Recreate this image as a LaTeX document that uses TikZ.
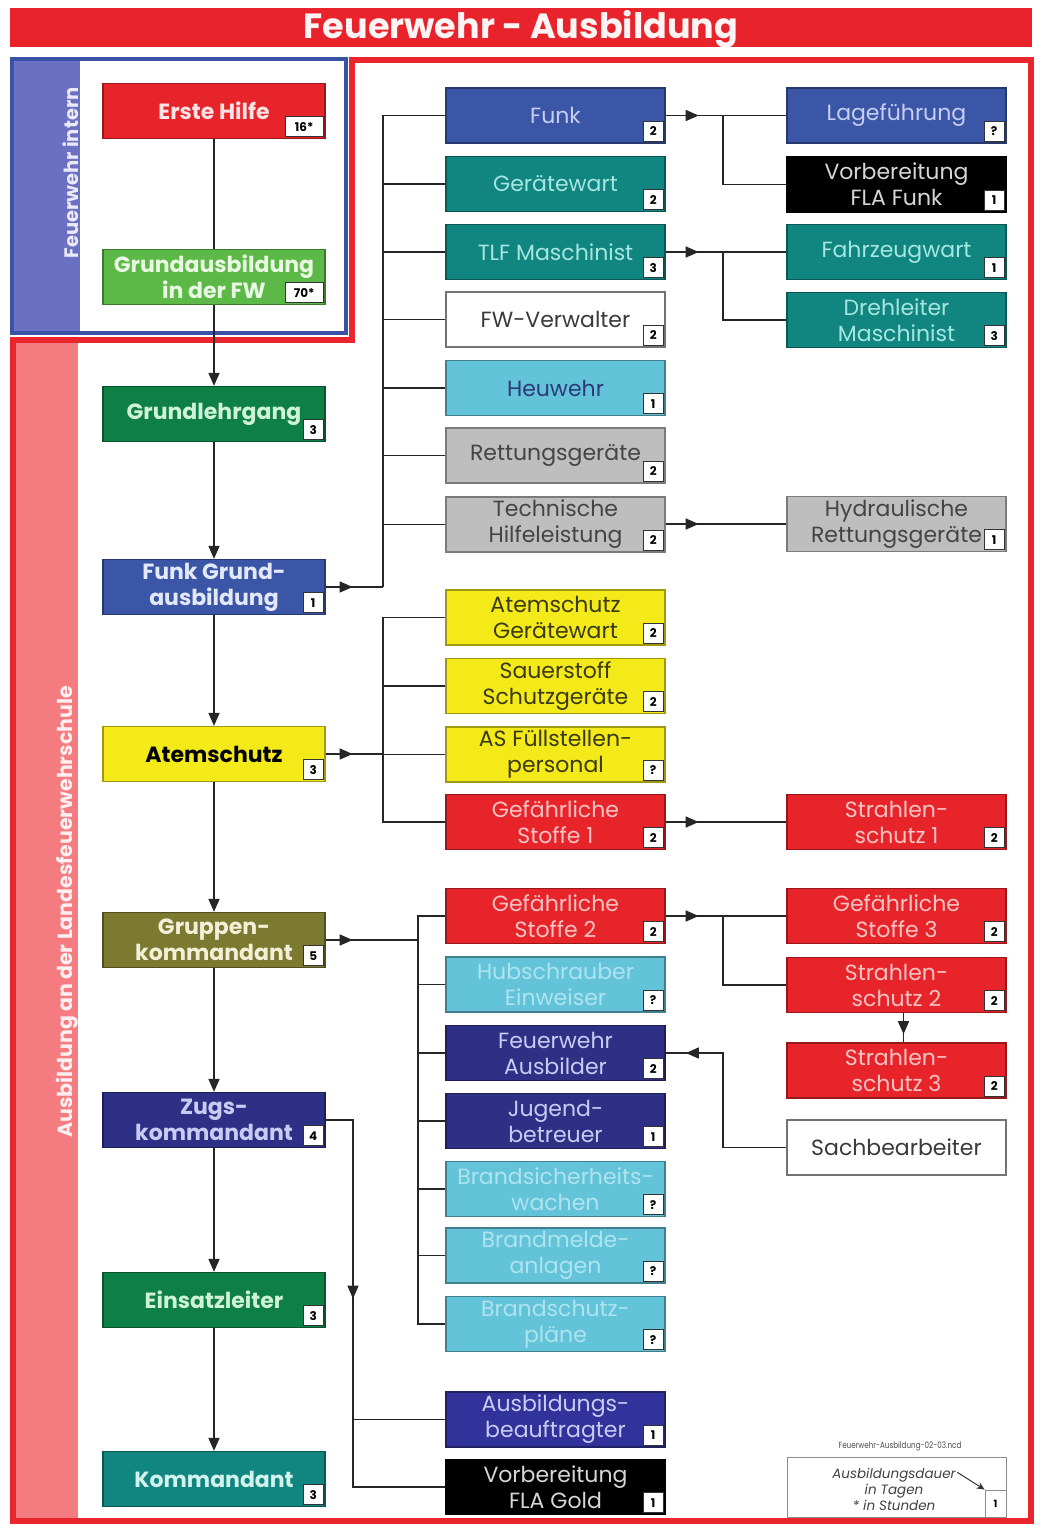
\documentclass[tikz,border=0pt]{standalone}
\usepackage{fontspec}
\setmainfont{Poppins}
\usetikzlibrary{arrows.meta,decorations.markings}

\definecolor{fwTitle}{HTML}{E9232B}
\definecolor{fwFrame}{HTML}{E8262C}
\definecolor{fwPink}{HTML}{F47C80}
\definecolor{fwFrameBlue}{HTML}{3A52A6}
\definecolor{fwStripBlue}{HTML}{6B70C2}
\definecolor{fwRed}{HTML}{E8242B}
\definecolor{fwBlue}{HTML}{3B56A6}
\definecolor{fwNavy}{HTML}{2E3086}
\definecolor{fwNavyB}{HTML}{31329A}
\definecolor{fwTeal}{HTML}{11857F}
\definecolor{fwGreenD}{HTML}{0E7F45}
\definecolor{fwGreenL}{HTML}{5CB847}
\definecolor{fwYellow}{HTML}{F4EA1A}
\definecolor{fwOlive}{HTML}{7C7A30}
\definecolor{fwCyan}{HTML}{63C4D9}
\definecolor{fwGray}{HTML}{BEBEBE}
\definecolor{tPink}{HTML}{FCE2E2}
\definecolor{tRed}{HTML}{F9C4C4}
\definecolor{tBlue}{HTML}{C6CEF2}
\definecolor{tBlueL}{HTML}{E4E9FA}
\definecolor{tNavy}{HTML}{C9CCF2}
\definecolor{tTeal}{HTML}{A6E6E1}
\definecolor{tTealL}{HTML}{D2F2EE}
\definecolor{tGreenD}{HTML}{CFF3D6}
\definecolor{tGreenL}{HTML}{E9F8E2}
\definecolor{tYellow}{HTML}{3A3A12}
\definecolor{tOlive}{HTML}{F2F0D8}
\definecolor{tCyan}{HTML}{AEE3EF}
\definecolor{tCyanD}{HTML}{2D3A7A}
\definecolor{tGray}{HTML}{444444}
\definecolor{tBlack}{HTML}{D6D6D6}
\definecolor{tWhite}{HTML}{3A3A3A}

\newcommand\crs[5]{%
  \node[#1] (#2) at (#3) {#4};
  \node[badge] (#2b) at ([xshift=-2pt,yshift=2pt]#2.south east) {#5};}

\begin{document}
\begin{tikzpicture}[x=1pt,y=-1pt,
  cbase/.style={line width=1.3pt, minimum height=55pt, inner sep=0pt, align=center},
  lc/.style 2 args={cbase, fill=#1, draw=#1!65!black, text=#2, minimum width=222pt,
     font=\bfseries\fontsize{22}{26}\selectfont},
  mc/.style 2 args={cbase, fill=#1, draw=#1!65!black, text=#2, minimum width=219pt,
     font=\fontsize{22}{26}\selectfont},
  badge/.style={draw=black!80, fill=white, line width=0.9pt, minimum width=20pt,
     minimum height=20pt, inner sep=2pt, anchor=south east, text=black,
     font=\bfseries\fontsize{12}{12}\selectfont},
  conn/.style={draw=black!85, line width=1.6pt},
  arr/.style={-{Triangle[length=13pt,width=11pt]}},
  midarr/.style={postaction={decorate}, decoration={markings,
     mark=at position #1 with {\arrow{Triangle[length=13pt,width=11pt]}}}}
]
\useasboundingbox (0,0) rectangle (1039,1526);

% title
\fill[fwTitle] (10,8) rectangle (1032,47);
\node[text=white!95!fwTitle, font=\bfseries\fontsize{35}{35}\selectfont] (title) at (521,29)
  {Feuerwehr - Ausbildung};

% Feuerwehr intern box
\fill[fwStripBlue] (12,59) rectangle (80,333);
\draw[fwFrameBlue, line width=4pt] (12,59) rectangle (346,333);
\node[rotate=90, text=white!85!fwStripBlue, font=\bfseries\fontsize{19.5}{19.5}\selectfont]
  (intern) at (71,173) {Feuerwehr intern};

% red frame + pink strip
\fill[fwPink] (14,342) rectangle (78,1519);
\draw[fwFrame, line width=6pt] (352,60) -- (1031,60) -- (1031,1521) -- (13,1521)
  -- (13,340) -- (352,340) -- cycle;
\node[rotate=90, text=white!88!fwPink, font=\bfseries\fontsize{20.5}{20.5}\selectfont]
  (lfs) at (67,912) {Ausbildung an der Landesfeuerwehrschule};

% left column
\crs{lc={fwRed}{tPink}}{eh}{214,111}{Erste Hilfe}{\makebox[34pt]{16*}}
\crs{lc={fwGreenL}{tGreenL}}{ga}{214,277}{Grundausbildung\\in der FW}{\makebox[34pt]{70*}}
\crs{lc={fwGreenD}{tGreenD}}{gl}{214,414}{Grundlehrgang}{3}
\crs{lc={fwBlue}{tBlueL}}{fg}{214,587}{Funk Grund-\\ausbildung}{1}
\crs{lc={fwYellow}{black}}{ats}{214,754}{Atemschutz}{3}
\crs{lc={fwOlive}{tOlive}}{gk}{214,940}{Gruppen-\\kommandant}{5}
\crs{lc={fwNavy}{tNavy}}{zk}{214,1120}{Zugs-\\kommandant}{4}
\crs{lc={fwGreenD}{tGreenD}}{el}{214,1300}{Einsatzleiter}{3}
\crs{lc={fwTeal}{tTealL}}{ko}{214,1479}{Kommandant}{3}

% middle column
\crs{mc={fwBlue}{tBlue}}{funk}{555.5,115.5}{Funk}{2}
\crs{mc={fwTeal}{tTeal}}{gw}{555.5,184}{Gerätewart}{2}
\crs{mc={fwTeal}{tTeal}}{tlf}{555.5,252}{TLF Maschinist}{3}
\crs{mc={white}{tWhite}, draw=black!55}{fwv}{555.5,319.5}{FW-Verwalter}{2}
\crs{mc={fwCyan}{tCyanD}}{heu}{555.5,388}{Heuwehr}{1}
\crs{mc={fwGray}{tGray}}{rg}{555.5,455.5}{Rettungsgeräte}{2}
\crs{mc={fwGray}{tGray}}{thl}{555.5,524.5}{Technische\\Hilfeleistung}{2}
\crs{mc={fwYellow}{tYellow}}{asg}{555.5,617.5}{Atemschutz\\Gerätewart}{2}
\crs{mc={fwYellow}{tYellow}}{ssg}{555.5,686}{Sauerstoff\\Schutzgeräte}{2}
\crs{mc={fwYellow}{tYellow}}{asf}{555.5,754.5}{AS Füllstellen-\\personal}{?}
\crs{mc={fwRed}{tRed}}{gs1}{555.5,822}{Gefährliche\\Stoffe 1}{2}
\crs{mc={fwRed}{tRed}}{gs2}{555.5,916}{Gefährliche\\Stoffe 2}{2}
\crs{mc={fwCyan}{tCyan}}{hub}{555.5,984.5}{Hubschrauber\\Einweiser}{?}
\crs{mc={fwNavy}{tNavy}}{fwa}{555.5,1053}{Feuerwehr\\Ausbilder}{2}
\crs{mc={fwNavy}{tNavy}}{jb}{555.5,1121}{Jugend-\\betreuer}{1}
\crs{mc={fwCyan}{tCyan}}{bsw}{555.5,1189}{Brandsicherheits-\\wachen}{?}
\crs{mc={fwCyan}{tCyan}}{bma}{555.5,1255.5}{Brandmelde-\\anlagen}{?}
\crs{mc={fwCyan}{tCyan}}{bsp}{555.5,1324}{Brandschutz-\\pläne}{?}
\crs{mc={fwNavyB}{tNavy}}{ab}{555.5,1419.5}{Ausbildungs-\\beauftragter}{1}
\crs{mc={black}{tBlack}}{vfg}{555.5,1487}{Vorbereitung\\FLA Gold}{1}

% right column
\crs{mc={fwBlue}{tBlue}}{lage}{896.5,115.5}{Lageführung}{?}
\crs{mc={black}{tBlack}}{vff}{896.5,184.5}{Vorbereitung\\FLA Funk}{1}
\crs{mc={fwTeal}{tTeal}}{fzw}{896.5,252}{Fahrzeugwart}{1}
\crs{mc={fwTeal}{tTeal}}{dlm}{896.5,320}{Drehleiter\\Maschinist}{3}
\crs{mc={fwGray}{tGray}}{hrg}{896.5,524}{Hydraulische\\Rettungsgeräte}{1}
\crs{mc={fwRed}{tRed}}{ss1}{896.5,822}{Strahlen-\\schutz 1}{2}
\crs{mc={fwRed}{tRed}}{gs3}{896.5,916}{Gefährliche\\Stoffe 3}{2}
\crs{mc={fwRed}{tRed}}{ss2}{896.5,985}{Strahlen-\\schutz 2}{2}
\crs{mc={fwRed}{tRed}}{ss3}{896.5,1070.5}{Strahlen-\\schutz 3}{2}
\node[mc={white}{tWhite}, draw=black!55] (sb) at (896.5,1147.5) {Sachbearbeiter};

% main vertical chain
\draw[conn] (eh) -- (ga);
\draw[conn,arr] (ga) -- (gl);
\draw[conn,arr] (gl) -- (fg);
\draw[conn,arr] (fg) -- (ats);
\draw[conn,arr] (ats) -- (gk);
\draw[conn,arr] (gk) -- (zk);
\draw[conn,arr] (zk) -- (el);
\draw[conn,arr] (el) -- (ko);

% bus 1: Funk Grundausbildung
\coordinate (bus1) at (383,587);
\draw[conn, midarr=27pt] (fg.east) -- (bus1);
\foreach \n in {funk,gw,tlf,fwv,heu,rg,thl} \draw[conn] (bus1) |- (\n.west);

% bus 2: Atemschutz
\coordinate (bus2) at (383,754);
\draw[conn, midarr=27pt] (ats.east) -- (bus2);
\foreach \n in {asg,ssg,asf,gs1} \draw[conn] (bus2) |- (\n.west);

% bus 3: Gruppenkommandant
\coordinate (bus3) at (418,940);
\draw[conn, midarr=27pt] (gk.east) -- (bus3);
\foreach \n in {gs2,hub,fwa,jb,bsw,bma,bsp} \draw[conn] (bus3) |- (\n.west);

% Zugskommandant branch
\coordinate (zk1) at (353,1120);
\coordinate (zk2) at (353,1487);
\draw[conn, midarr=206pt] (zk.east) -- (zk1) -- (zk2) -- (vfg.west);
\draw[conn] (zk1) |- (ab.west);

% middle -> right
\draw[conn, midarr=33pt] (funk.east) -- (lage.west);
\coordinate (fb) at (723,115.5);
\draw[conn] (fb) |- (vff.west);
\draw[conn, midarr=33pt] (tlf.east) -- (fzw.west);
\coordinate (tb) at (723,252);
\draw[conn] (tb) |- (dlm.west);
\draw[conn, midarr=33pt] (thl.east |- hrg.west) -- (hrg.west);
\draw[conn, midarr=33pt] (gs1.east) -- (ss1.west);
\draw[conn, midarr=33pt] (gs2.east) -- (gs3.west);
\coordinate (gb) at (723,916);
\draw[conn] (gb) |- (ss2.west);
\draw[conn, midarr=21pt] ([xshift=7pt]ss2.south) -- ([xshift=7pt]ss3.north);

% Sachbearbeiter -> Feuerwehr Ausbilder
\coordinate (sb1) at (723,1147.5);
\coordinate (sb2) at (723,1053);
\draw[conn, midarr=195pt] (sb.west) -- (sb1) -- (sb2) -- (fwa.east);

% legend
\node[text=black!70, font=\fontsize{9}{9}\selectfont] (cap) at (900,1446)
  {\scalebox{0.8}[1]{Feuerwehr-Ausbildung-02-03.ncd}};
\node[draw=black!45, line width=0.8pt, minimum width=219pt, minimum height=60pt,
  inner sep=0pt] (leg) at (896.5,1487) {};
\node[draw=black!45, line width=0.8pt, minimum width=21pt, minimum height=27pt,
  inner sep=0pt, anchor=south east, font=\bfseries\fontsize{10}{10}\selectfont]
  (legb) at (leg.south east) {1};
\node[align=center, text=black!75, font=\itshape\fontsize{13.5}{16}\selectfont]
  (legt) at (894,1489) {Ausbildungsdauer\\in Tagen\\* in Stunden};
\draw[black!80, line width=1pt, -{Stealth[length=8pt,width=7pt]}]
  ([xshift=-2pt,yshift=-8pt]legt.north east) -- (legb.north west);
\end{tikzpicture}
\end{document}
